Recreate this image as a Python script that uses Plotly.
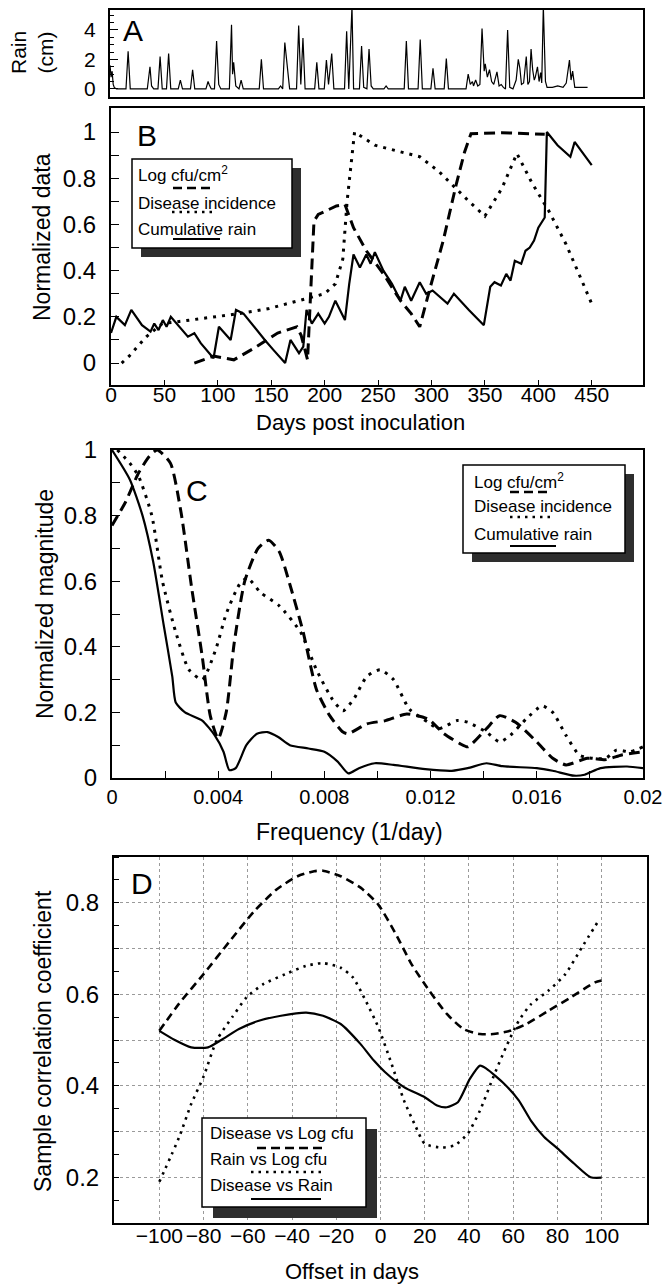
import plotly.graph_objects as go

# ---------------- DATA ----------------
# Panel A: daily rain (cm)
rain_day = [0, 1, 2, 3, 4, 6,
            15, 17, 19,
            35, 36, 37.5, 39, 41,
            45, 47, 49,
            53, 55, 57,
            64, 66, 68,
            75.5, 77.5, 79.5,
            90, 92, 93, 95,
            98, 100, 102, 104,
            112, 114, 115, 116, 118, 121, 123, 125,
            140, 142, 144,
            158, 160, 162, 164, 166.5, 168.5,
            175, 177, 179, 181, 183,
            192, 194, 196,
            201, 203, 205, 208, 210,
            220, 222, 224, 227, 228.5,
            234, 236, 238, 241, 243, 245, 247,
            257, 259, 261,
            276, 278, 280,
            289, 291, 293,
            301, 303, 305,
            313.5, 315.5, 317.5,
            334, 336, 338, 340, 341, 343, 345, 347, 349, 351,
            352, 354, 356, 358, 360, 363, 365, 367, 369, 371,
            373, 375, 378, 381, 383, 384.5, 386, 388, 390.5, 392,
            393.5, 395, 396.5, 398, 399, 401, 402.5, 404, 405, 406.5,
            408.5, 410, 415, 420, 425, 428, 431, 432.5, 434, 436,
            440, 448]
rain_cm = [1.6, 0.8, 1.2, 0.3, 0.1, 0,
           0, 2.55, 0,
           0, 0.6, 1.5, 0.2, 0,
           0, 2.2, 0,
           0, 2.4, 0,
           0, 0.6, 0,
           0, 1.3, 0,
           0, 0.5, 0.3, 0,
           0, 3.25, 0.3, 0,
           0, 4.35, 1.0, 1.8, 0.2, 0, 0.6, 0,
           0, 2.0, 0,
           0, 0.2, 0, 3.15, 1.5, 0,
           0, 4.3, 0.3, 3.45, 0,
           0, 1.8, 0,
           0, 1.95, 0.3, 2.4, 0,
           0, 3.9, 0, 5.6, 0,
           0, 2.9, 0.1, 0, 2.7, 0.2, 0,
           0, 0.2, 0,
           0, 3.25, 0,
           0, 3.35, 0,
           0, 1.4, 0,
           0, 2.05, 0,
           0, 1.0, 0.3, 0.5, 0.2, 0.6, 0.2, 0.3, 4.1, 1.2,
           1.7, 0.8, 1.3, 0.5, 0.3, 1.15, 0.2, 0.3, 0.1, 0,
           4.0, 0.1, 0, 0.6, 2.0, 1.4, 0.3, 0.4, 2.2, 0.3,
           0.5, 2.7, 1.3, 0.6, 0.8, 1.5, 0.5, 1.1, 0.4, 5.6,
           0.5, 0.1, 0.1, 0.2, 0.1, 0.4, 1.95, 0.6, 1.2, 0.1,
           0.1, 0.1]

# Panel B: normalized data vs days post inoculation
b_cfu_day = [78, 96, 115, 136, 156, 174, 178, 184, 190, 194, 211, 219, 227, 239,
             255, 271, 281, 289, 299, 311, 323, 331, 337, 366, 406]
b_cfu_val = [0.0, 0.03, 0.014, 0.07, 0.13, 0.157, 0.12, 0.014, 0.614, 0.643, 0.68,
             0.686, 0.586, 0.486, 0.386, 0.27, 0.214, 0.157, 0.33, 0.53, 0.77,
             0.914, 0.993, 0.997, 0.99]
b_dis_day = [10, 17, 33, 48, 64, 96, 120, 148, 176, 200, 210, 217, 221, 228, 247,
             271, 289, 307, 335, 350, 366, 380, 394, 410, 426, 438, 450]
b_dis_val = [0.0, 0.03, 0.114, 0.171, 0.18, 0.2, 0.214, 0.236, 0.27, 0.3, 0.343,
             0.45, 0.7, 1.0, 0.943, 0.914, 0.893, 0.829, 0.7, 0.636, 0.757, 0.907,
             0.78, 0.657, 0.514, 0.386, 0.257]
b_rain_day = [0, 5, 13, 19, 29, 37, 40.5, 44.5, 48.5, 52, 56, 64, 72, 78, 84, 96,
              101, 112, 117, 124, 136, 144, 152, 163, 168, 176, 180, 183, 188, 194,
              200, 204, 210, 219, 223, 227, 233, 239, 243, 247, 255, 263, 271, 275,
              281, 289, 295, 301, 315, 321, 335, 349, 355, 359, 365, 370, 374, 378,
              384, 388, 392, 396, 400, 406, 408, 418, 430, 434, 450]
b_rain_val = [0.13, 0.2, 0.164, 0.23, 0.164, 0.136, 0.171, 0.143, 0.186, 0.157,
              0.2, 0.157, 0.114, 0.129, 0.086, 0.021, 0.157, 0.1, 0.23, 0.214,
              0.143, 0.1, 0.057, 0.0, 0.1, 0.043, 0.071, 0.23, 0.171, 0.214,
              0.171, 0.2, 0.27, 0.186, 0.343, 0.47, 0.414, 0.47, 0.43, 0.48,
              0.4, 0.343, 0.27, 0.33, 0.27, 0.35, 0.3, 0.314, 0.257, 0.3,
              0.23, 0.164, 0.33, 0.35, 0.336, 0.386, 0.357, 0.443, 0.43, 0.486,
              0.5, 0.53, 0.586, 0.63, 1.0, 0.943, 0.893, 0.957, 0.857]

# Panel C: normalized magnitude vs frequency
c_f_rain = [0, 0.00067, 0.00115, 0.00155, 0.00195, 0.00227, 0.0024, 0.00275, 0.0034,
            0.00387, 0.0042, 0.00442, 0.00466, 0.00506, 0.00546, 0.00586, 0.00626,
            0.0067, 0.0074, 0.008, 0.0085, 0.0089, 0.0093, 0.0099, 0.0106, 0.0118,
            0.0128, 0.0134, 0.0141, 0.0147, 0.016, 0.0166, 0.0174, 0.0178, 0.0184,
            0.0194, 0.02]
c_rain = [1.0, 0.91, 0.80, 0.66, 0.465, 0.31, 0.23, 0.20, 0.175, 0.13, 0.08, 0.024,
          0.03, 0.10, 0.135, 0.14, 0.125, 0.10, 0.09, 0.08, 0.05, 0.014, 0.03, 0.045,
          0.04, 0.027, 0.022, 0.03, 0.045, 0.036, 0.03, 0.022, 0.007, 0.01, 0.03,
          0.035, 0.03]
c_f_cfu = [0, 0.0005, 0.001, 0.0014, 0.0017, 0.0022, 0.0026, 0.003, 0.0034, 0.0037,
           0.004, 0.0043, 0.0046, 0.005, 0.0055, 0.0059, 0.0063, 0.0067, 0.0072,
           0.0077, 0.0082, 0.0087, 0.0089, 0.0096, 0.0103, 0.0111, 0.0119, 0.0125,
           0.0131, 0.0134, 0.0141, 0.0146, 0.0152, 0.016, 0.0166, 0.0171, 0.0179,
           0.0186, 0.0192, 0.02]
c_cfu = [0.77, 0.84, 0.93, 0.98, 1.0, 0.96, 0.81, 0.58, 0.37, 0.19, 0.12, 0.2, 0.41,
         0.6, 0.70, 0.725, 0.69, 0.59, 0.445, 0.27, 0.19, 0.14, 0.135, 0.165, 0.175,
         0.195, 0.18, 0.135, 0.105, 0.095, 0.15, 0.19, 0.17, 0.11, 0.06, 0.04, 0.06,
         0.056, 0.07, 0.08]
c_f_dis = [0.0002, 0.00067, 0.001, 0.0015, 0.0019, 0.0024, 0.0029, 0.0034, 0.0039,
           0.0043, 0.0048, 0.0051, 0.0056, 0.0063, 0.0071, 0.0077, 0.0083, 0.0087,
           0.0091, 0.0096, 0.0101, 0.0106, 0.0112, 0.0119, 0.0123, 0.013, 0.0134,
           0.0141, 0.0146, 0.015, 0.0156, 0.0162, 0.0166, 0.0171, 0.0176, 0.0181,
           0.0186, 0.019, 0.0195, 0.02]
c_dis = [1.0, 0.96, 0.92, 0.80, 0.6, 0.445, 0.33, 0.3, 0.39, 0.5, 0.59, 0.61, 0.565,
         0.525, 0.445, 0.33, 0.24, 0.205, 0.24, 0.31, 0.33, 0.30, 0.21, 0.17, 0.15,
         0.175, 0.17, 0.14, 0.11, 0.13, 0.18, 0.22, 0.20, 0.13, 0.07, 0.06, 0.06,
         0.085, 0.08, 0.095]

# Panel D: sample correlation coefficient vs offset
d_off_dc = [-100, -91, -80, -68, -57, -47, -37.5, -30, -26, -18, -9, -1, 7, 14, 22,
            30, 37.5, 45, 51, 58.6, 66, 76, 86, 97, 100]
d_dis_cfu = [0.52, 0.58, 0.644, 0.717, 0.782, 0.829, 0.858, 0.869, 0.87, 0.858,
             0.833, 0.796, 0.731, 0.666, 0.608, 0.557, 0.524, 0.513, 0.513, 0.52,
             0.535, 0.564, 0.593, 0.626, 0.63]
d_off_rc = [-100, -91, -85.6, -80, -74, -67, -60.6, -53, -43, -33.7, -26, -18, -12.5,
            -6.7, -1, 5, 10.6, 16, 20, 27.9, 33.6, 39.4, 45, 51, 56.7, 62.5, 68, 76,
            83.6, 91, 99]
d_rain_cfu = [0.19, 0.288, 0.36, 0.42, 0.50, 0.55, 0.593, 0.622, 0.644, 0.662, 0.668,
              0.658, 0.637, 0.586, 0.528, 0.448, 0.368, 0.31, 0.273, 0.265, 0.27,
              0.295, 0.346, 0.419, 0.484, 0.542, 0.578, 0.608, 0.644, 0.702, 0.764]
d_off_dr = [-100, -93, -85.6, -78, -72, -64, -55, -45, -33.6, -26, -18, -9, -3, 2,
            10.6, 20, 25.6, 30, 35, 40.4, 45, 48, 56, 62.5, 68, 74, 80, 87.5, 95, 100]
d_dis_rain = [0.52, 0.50, 0.484, 0.484, 0.50, 0.524, 0.542, 0.553, 0.56, 0.553,
              0.535, 0.491, 0.455, 0.43, 0.397, 0.375, 0.357, 0.353, 0.364, 0.415,
              0.444, 0.437, 0.404, 0.368, 0.324, 0.288, 0.263, 0.23, 0.20, 0.199]

# Tick labels
b_xticks = [0, 50, 100, 150, 200, 250, 300, 350, 400, 450]
c_xticks = [0, 0.002, 0.004, 0.006, 0.008, 0.01, 0.012, 0.014, 0.016, 0.018, 0.02]
c_xtext = ["0", "", "0.004", "", "0.008", "", "0.012", "", "0.016", "", "0.02"]
d_xticks = [-100, -80, -60, -40, -20, 0, 20, 40, 60, 80, 100]
unit_ticks = [0, 0.1, 0.2, 0.3, 0.4, 0.5, 0.6, 0.7, 0.8, 0.9, 1.0]
unit_text = ["0", "", "0.2", "", "0.4", "", "0.6", "", "0.8", "", "1"]
d_yticks = [0.1, 0.2, 0.3, 0.4, 0.5, 0.6, 0.7, 0.8, 0.9]
d_ytext = ["", "0.2", "", "0.4", "", "0.6", "", "0.8", ""]

# ---------------- LAYOUT HELPERS ----------------
W, H = 667, 1285
FONT = "Liberation Sans, Arial, Helvetica, sans-serif"


def px(x):
    return x / W


def py(y):
    return 1 - y / H


def box_axis(**kw):
    d = dict(showline=True, linecolor="black", linewidth=2, mirror=True,
             zeroline=False, showgrid=False, ticks="inside", tickcolor="black",
             tickwidth=1.2, automargin=False, tickangle=0,
             tickfont=dict(family=FONT, size=22, color="black"))
    d.update(kw)
    return d


fig = go.Figure()

# Panel A
fig.add_trace(go.Scatter(x=rain_day, y=rain_cm, mode="lines", xaxis="x", yaxis="y",
                         line=dict(color="black", width=1.2)))
# Panel B
fig.add_trace(go.Scatter(x=b_cfu_day, y=b_cfu_val, mode="lines", xaxis="x2", yaxis="y2",
                         line=dict(color="black", width=3, dash="11px,6px")))
fig.add_trace(go.Scatter(x=b_dis_day, y=b_dis_val, mode="lines", xaxis="x2", yaxis="y2",
                         line=dict(color="black", width=3, dash="3px,6px")))
fig.add_trace(go.Scatter(x=b_rain_day, y=b_rain_val, mode="lines", xaxis="x2", yaxis="y2",
                         line=dict(color="black", width=2.2)))
# Panel C
fig.add_trace(go.Scatter(x=c_f_cfu, y=c_cfu, mode="lines", xaxis="x3", yaxis="y3",
                         line=dict(color="black", width=3, dash="11px,6px", shape="spline", smoothing=0.6)))
fig.add_trace(go.Scatter(x=c_f_dis, y=c_dis, mode="lines", xaxis="x3", yaxis="y3",
                         line=dict(color="black", width=3, dash="3px,6px", shape="spline", smoothing=0.6)))
fig.add_trace(go.Scatter(x=c_f_rain, y=c_rain, mode="lines", xaxis="x3", yaxis="y3",
                         line=dict(color="black", width=2.2, shape="spline", smoothing=0.6)))
# Panel D
fig.add_trace(go.Scatter(x=d_off_dc, y=d_dis_cfu, mode="lines", xaxis="x4", yaxis="y4",
                         line=dict(color="black", width=2.6, dash="8px,5px", shape="spline", smoothing=0.6)))
fig.add_trace(go.Scatter(x=d_off_rc, y=d_rain_cfu, mode="lines", xaxis="x4", yaxis="y4",
                         line=dict(color="black", width=2.6, dash="2.5px,5px", shape="spline", smoothing=0.6)))
fig.add_trace(go.Scatter(x=d_off_dr, y=d_dis_rain, mode="lines", xaxis="x4", yaxis="y4",
                         line=dict(color="black", width=2.2, shape="spline", smoothing=0.6)))

fig.update_layout(
    width=W, height=H, margin=dict(l=0, r=0, t=0, b=0, pad=0, autoexpand=False),
    paper_bgcolor="white", plot_bgcolor="white", showlegend=False,
    font=dict(family=FONT, color="black"),
    xaxis=box_axis(domain=[px(110), px(643)], range=[0, 500], anchor="y",
                   showticklabels=False, ticks=""),
    yaxis=box_axis(domain=[py(97), py(10)], range=[-0.55, 5.35], anchor="x",
                   tickvals=[0, 2, 4], ticklen=8, tickfont=dict(family=FONT, size=21),
                   ticklabelstandoff=8,
                   minor=dict(dtick=0.5, ticks="inside", ticklen=4, tickcolor="black")),
    xaxis2=box_axis(domain=[px(111), px(643)], range=[0, 498], anchor="y2",
                    tickvals=b_xticks, ticklen=5, tickfont=dict(family=FONT, size=21),
                    ticklabelstandoff=-10),
    yaxis2=box_axis(domain=[py(385), py(108)], range=[-0.095, 1.104], anchor="x2",
                    tickvals=unit_ticks, ticktext=unit_text, ticklen=8,
                    tickfont=dict(family=FONT, size=24), ticklabelstandoff=8),
    xaxis3=box_axis(domain=[px(112), px(643)], range=[0, 0.02], anchor="y3",
                    tickvals=c_xticks, ticktext=c_xtext, ticklen=7,
                    tickfont=dict(family=FONT, size=20)),
    yaxis3=box_axis(domain=[py(778), py(450)], range=[0, 1], anchor="x3",
                    tickvals=unit_ticks, ticktext=unit_text, ticklen=8,
                    tickfont=dict(family=FONT, size=24), ticklabelstandoff=8),
    xaxis4=box_axis(domain=[px(114), px(647)], range=[-120.5, 120.5], anchor="y4",
                    tickvals=d_xticks, ticks="", showgrid=True, gridcolor="#9a9a9a",
                    griddash="dot", gridwidth=1, tickfont=dict(family=FONT, size=21),
                    ticklabelstandoff=-7),
    yaxis4=box_axis(domain=[py(1223), py(857)], range=[0.1, 0.9], anchor="x4",
                    tickvals=d_yticks, ticktext=d_ytext, ticks="", showgrid=True,
                    gridcolor="#9a9a9a", griddash="dot", gridwidth=1,
                    tickfont=dict(family=FONT, size=24), ticklabelstandoff=8,
                    minor=dict(dtick=0.05, ticks="inside", ticklen=5, tickcolor="black")),
)

ann = []


def text(x, y, s, size, angle=0, xanchor="center"):
    ann.append(dict(x=px(x), y=py(y), xref="paper", yref="paper", text=s, showarrow=False,
                    font=dict(family=FONT, size=size, color="black"), textangle=angle,
                    xanchor=xanchor, yanchor="middle"))


# panel letters
text(133, 30, "A", 30)
text(147, 136, "B", 30)
text(197, 491, "C", 30)
text(142, 883, "D", 30)
# axis titles
text(32, 53, "Rain<br>(cm)", 21, angle=-90)
text(42, 237, "Normalized data", 23, angle=-90)
text(360, 423, "Days post inoculation", 22)
text(45, 604, "Normalized magnitude", 23, angle=-90)
text(350, 832, "Frequency (1/day)", 23)
text(43, 1041, "Sample correlation coefficient", 23, angle=-90)
text(352, 1271, "Offset in days", 22)

shapes = []


def legend_box(x0, y0, x1, y1, off=9):
    shapes.append(dict(type="rect", xref="paper", yref="paper", x0=px(x0 + off), x1=px(x1 + off),
                       y0=py(y1 + off), y1=py(y0 + off), fillcolor="#2e2e2e", line=dict(width=0)))
    shapes.append(dict(type="rect", xref="paper", yref="paper", x0=px(x0), x1=px(x1),
                       y0=py(y1), y1=py(y0), fillcolor="white", line=dict(color="black", width=1.5)))


def sample(x0, x1, y, dash, width):
    shapes.append(dict(type="line", xref="paper", yref="paper", x0=px(x0), x1=px(x1),
                       y0=py(y), y1=py(y), line=dict(color="black", width=width, dash=dash)))


# Legend B
legend_box(132, 159, 292, 248)
text(136, 174, "Log cfu/cm<sup>2</sup>", 17, xanchor="left")
text(136, 203, "Disease incidence", 17, xanchor="left")
text(136, 229, "Cumulative rain", 17, xanchor="left")
sample(173, 215, 188, "9px,5px", 2.5)
sample(172, 216, 212, "2.5px,5px", 2.5)
sample(173, 220, 239, "solid", 2)

# Legend C
legend_box(463, 465, 625, 553)
text(472, 481, "Log cfu/cm<sup>2</sup>", 17, xanchor="left")
text(472, 507, "Disease incidence", 17, xanchor="left")
text(472, 534, "Cumulative rain", 17, xanchor="left")
sample(510, 548, 492, "9px,5px", 2.5)
sample(510, 551, 517, "2.5px,5px", 2.5)
sample(510, 556, 546, "solid", 2)

# Legend D
legend_box(202, 1118, 366, 1207, off=11)
text(208, 1133, "Disease vs Log cfu", 17, xanchor="left")
text(208, 1159, "Rain vs Log cfu", 17, xanchor="left")
text(208, 1185, "Disease vs Rain", 17, xanchor="left")
sample(257, 322, 1148, "9px,5px", 2.5)
sample(251, 324, 1172, "2.5px,5px", 2.5)
sample(251, 321, 1199, "solid", 2)

fig.update_layout(annotations=ann, shapes=shapes)

fig.write_html(
    "out.html",
    config={"displayModeBar": False},
    post_script="document.body.style.margin='0px';document.body.style.overflow='hidden';",
)
